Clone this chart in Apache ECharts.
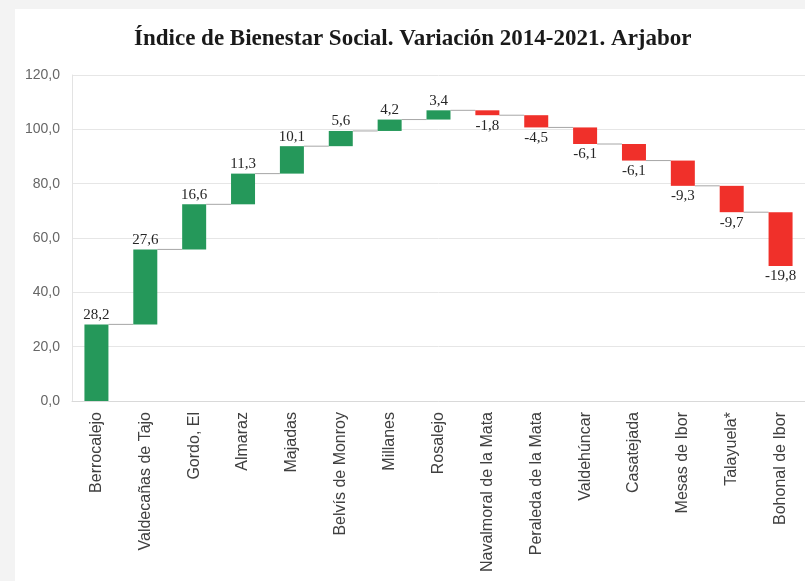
<!DOCTYPE html>
<html>
<head>
<meta charset="utf-8">
<script src="https://cdn.jsdelivr.net/npm/echarts@6/dist/echarts.min.js"></script>
<style>
html,body{margin:0;padding:0;background:#f3f3f3;}
#chart{width:805px;height:581px;}
</style>
</head>
<body>
<div id="chart"></div>
<script>
const titleText = 'Índice de Bienestar Social. Variación 2014-2021. Arjabor';
const categories = ['Berrocalejo','Valdecañas de Tajo','Gordo, El','Almaraz','Majadas','Belvís de Monroy','Millanes','Rosalejo','Navalmoral de la Mata','Peraleda de la Mata','Valdehúncar','Casatejada','Mesas de Ibor','Talayuela*','Bohonal de Ibor'];
const deltas = [28.2, 27.6, 16.6, 11.3, 10.1, 5.6, 4.2, 3.4, -1.8, -4.5, -6.1, -6.1, -9.3, -9.7, -19.8];
const yTicks = [0, 20, 40, 60, 80, 100, 120];

const GREEN = '#25985a';
const RED = '#f0302a';
const BAR_W = 24;

// running totals
const ends = [];
let run = 0;
deltas.forEach(d => { run += d; ends.push(+run.toFixed(1)); });
const starts = ends.map((e, i) => +(e - deltas[i]).toFixed(1));
const baseData = deltas.map((d, i) => Math.min(starts[i], ends[i]));
const barData = deltas.map((d, i) => ({
  value: Math.abs(d),
  itemStyle: { color: d >= 0 ? GREEN : RED },
  label: { position: d >= 0 ? 'top' : 'bottom', distance: d >= 0 ? 2 : 3 }
}));
const connData = ends.slice(0, -1).map((e, i) => [i, e]);
const fmt = v => v.toFixed(1).replace('.', ',');

const chart = echarts.init(document.getElementById('chart'), null, { renderer: 'canvas' });
chart.setOption({
  backgroundColor: '#f3f3f3',
  animation: false,
  graphic: [{
    type: 'rect', z: -10, silent: true,
    shape: { x: 15, y: 9, width: 800, height: 600 },
    style: { fill: '#ffffff' }
  }],
  title: {
    text: titleText,
    left: 129, top: 23,
    textStyle: { fontFamily: 'Liberation Serif', fontWeight: 'bold', fontSize: 23, color: '#1a1a1a' }
  },
  grid: { left: 72, right: -5, top: 75, bottom: 180, containLabel: false },
  xAxis: {
    type: 'category',
    data: categories,
    axisLine: { show: true, lineStyle: { color: '#d9d9d9' } },
    axisTick: { show: false },
    axisLabel: {
      rotate: 90, interval: 0, margin: 11,
      fontFamily: 'Liberation Sans', fontSize: 16, color: '#404040'
    }
  },
  yAxis: {
    type: 'value', min: yTicks[0], max: yTicks[yTicks.length - 1], interval: 20,
    axisLine: { show: true, lineStyle: { color: '#e3e3e3' } },
    axisTick: { show: false },
    splitLine: { lineStyle: { color: '#e6e6e6', width: 1 } },
    axisLabel: {
      formatter: v => fmt(v), margin: 12,
      fontFamily: 'Liberation Sans', fontSize: 14, color: '#666666'
    }
  },
  series: [
    {
      type: 'custom',
      z: 1,
      silent: true,
      data: connData,
      renderItem: (params, api) => {
        const i = api.value(0);
        const y = api.value(1);
        const p = api.coord([i, y]);
        const w = api.size([1, 0])[0];
        return {
          type: 'line',
          shape: { x1: p[0] + BAR_W / 2, y1: p[1], x2: p[0] + w - BAR_W / 2, y2: p[1] },
          style: { stroke: '#a6a6a6', lineWidth: 1 }
        };
      }
    },
    {
      type: 'bar', stack: 'w', z: 2,
      data: baseData,
      barWidth: BAR_W,
      itemStyle: { color: 'transparent' },
      silent: true
    },
    {
      type: 'bar', stack: 'w', z: 3,
      data: barData,
      barWidth: BAR_W,
      label: {
        show: true,
        formatter: p => fmt(deltas[p.dataIndex]),
        fontFamily: 'Liberation Serif', fontSize: 15, color: '#262626'
      }
    }
  ]
});
</script>
</body>
</html>
